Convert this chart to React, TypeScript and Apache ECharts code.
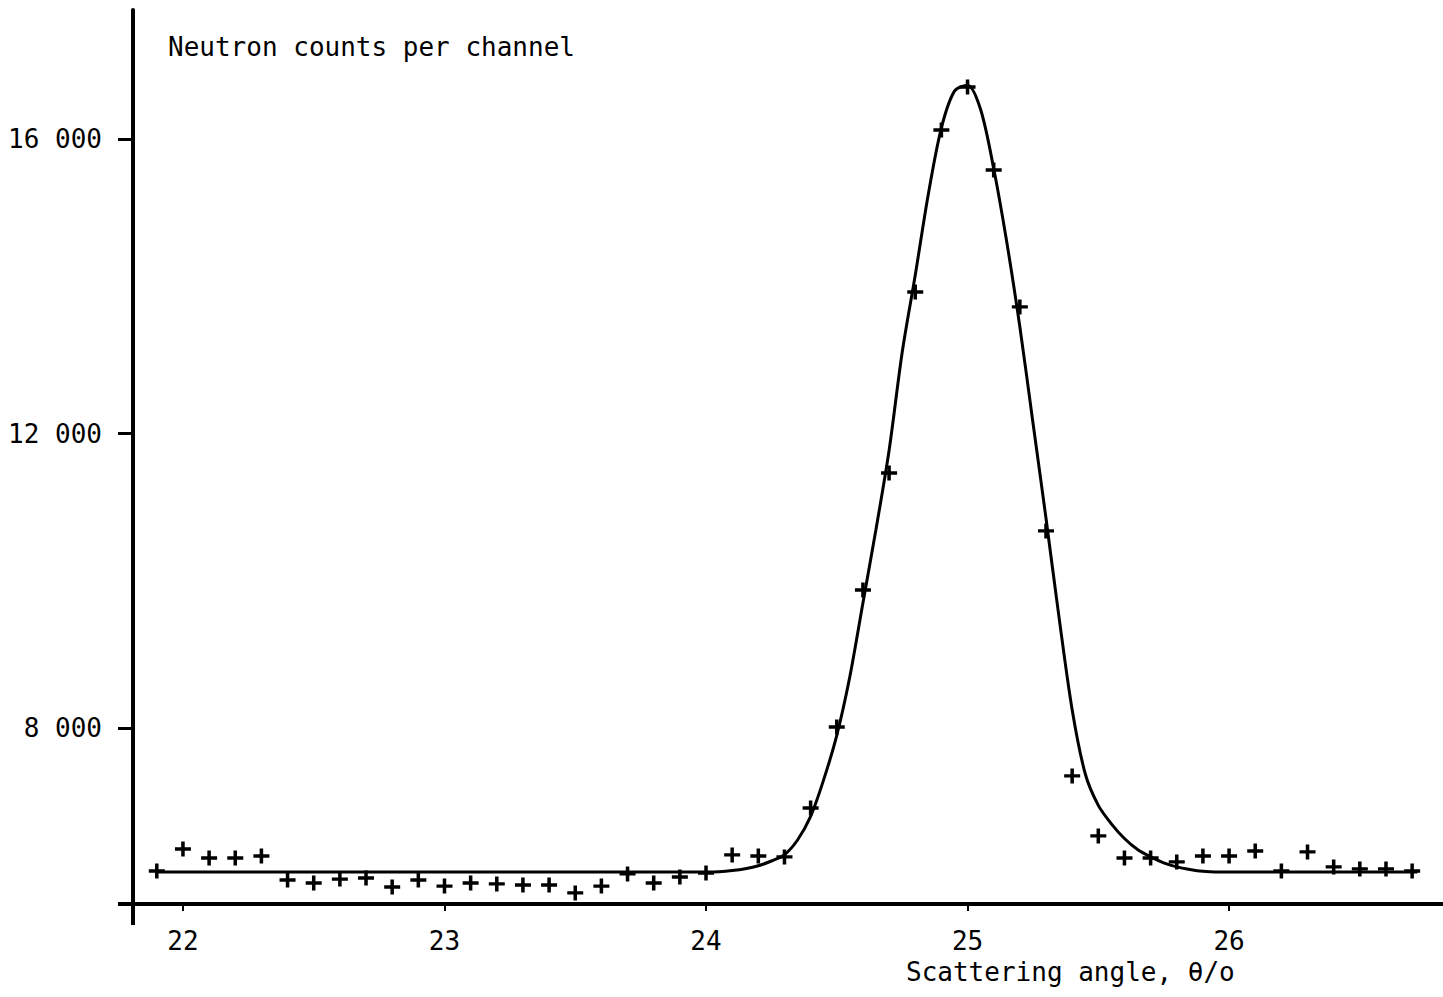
import React, { useEffect, useRef } from "react";
import * as echarts from "echarts";

// Measured channels (scattering angle, degrees)
const angles = [
  21.9, 22.0, 22.1, 22.2, 22.3, 22.4, 22.5, 22.6, 22.7, 22.8, 22.9,
  23.0, 23.1, 23.2, 23.3, 23.4, 23.5, 23.6, 23.7, 23.8, 23.9,
  24.0, 24.1, 24.2, 24.3, 24.4, 24.5, 24.6, 24.7, 24.8, 24.9,
  25.0, 25.1, 25.2, 25.3, 25.4, 25.5, 25.6, 25.7, 25.8, 25.9,
  26.0, 26.1, 26.2, 26.3, 26.4, 26.5, 26.6, 26.7,
];
// Neutron counts per channel
const counts = [
  6059, 6358, 6236, 6236, 6263, 5937, 5896, 5950, 5964, 5842, 5937,
  5855, 5896, 5883, 5869, 5869, 5761, 5855, 6019, 5896, 5978,
  6032, 6277, 6263, 6250, 6915, 8015, 9875, 11464, 13922, 16122,
  16706, 15579, 13719, 10677, 7350, 6535, 6236, 6236, 6182, 6263,
  6263, 6331, 6059, 6318, 6114, 6087, 6087, 6059,
];

// Fitted curve
const fitAngles = [
  21.9, 22.5, 23.0, 23.5, 23.8, 24.0, 24.05, 24.1, 24.15, 24.2, 24.25,
  24.3, 24.35, 24.4, 24.45, 24.5, 24.55, 24.6, 24.65, 24.7, 24.75,
  24.8, 24.85, 24.9, 24.95, 25.0, 25.05, 25.1, 25.15, 25.2, 25.25,
  25.3, 25.35, 25.4, 25.45, 25.5, 25.55, 25.6, 25.65, 25.7, 25.75,
  25.8, 25.85, 25.9, 25.95, 26.0, 26.2, 26.5, 26.72,
];
const fitCounts = [
  6046, 6046, 6046, 6046, 6046, 6046, 6050, 6065, 6090, 6130, 6195,
  6280, 6480, 6800, 7300, 7900, 8700, 9700, 10700, 11770, 13100,
  14150, 15250, 16150, 16650, 16730, 16400, 15600, 14600, 13450, 12150,
  10850, 9500, 8250, 7380, 6950, 6700, 6500, 6350, 6250, 6170,
  6115, 6080, 6055, 6046, 6046, 6046, 6046, 6046,
];

const xTicks = [22, 23, 24, 25, 26];
const yTicks = [8000, 12000, 16000];

const FONT = "DejaVu Sans Mono";
const PLUS =
  "path://M-0.22,-1L0.22,-1L0.22,-0.22L1,-0.22L1,0.22L0.22,0.22L0.22,1L-0.22,1L-0.22,0.22L-1,0.22L-1,-0.22L-0.22,-0.22Z";

export default function App() {
  const ref = useRef<HTMLDivElement>(null);
  useEffect(() => {
    if (!ref.current) return;
    const chart = echarts.init(ref.current, null, { renderer: "svg" });
    chart.setOption({
      animation: false,
      backgroundColor: "#ffffff",
      grid: { left: 133, right: 0, top: 10, bottom: 93 },
      xAxis: {
        type: "value",
        min: 21.809,
        max: 26.818,
        axisLine: { show: true, lineStyle: { color: "#000", width: 4 } },
        axisTick: {
          show: true,
          customValues: xTicks,
          length: 7,
          lineStyle: { color: "#000", width: 2 },
        },
        axisLabel: {
          customValues: xTicks,
          fontFamily: FONT,
          fontSize: 26,
          color: "#000",
          margin: 24,
        },
        splitLine: { show: false },
      },
      yAxis: {
        type: "value",
        min: 5611,
        max: 17752,
        axisLine: { show: true, lineStyle: { color: "#000", width: 4 } },
        axisTick: {
          show: true,
          customValues: yTicks,
          length: 15,
          lineStyle: { color: "#000", width: 3 },
        },
        axisLabel: {
          customValues: yTicks,
          fontFamily: FONT,
          fontSize: 26,
          color: "#000",
          margin: 31,
          formatter: (v: number) => {
            const s = String(Math.round(v));
            return s.slice(0, s.length - 3) + " " + s.slice(-3);
          },
        },
        splitLine: { show: false },
      },
      graphic: [
        {
          type: "line",
          shape: { x1: 118, y1: 904, x2: 133, y2: 904 },
          style: { stroke: "#000", lineWidth: 4 },
        },
        {
          type: "line",
          shape: { x1: 133, y1: 904, x2: 133, y2: 925 },
          style: { stroke: "#000", lineWidth: 4 },
        },
        {
          type: "text",
          x: 168,
          y: 47,
          style: {
            text: "Neutron counts per channel",
            font: `26px '${FONT}'`,
            fill: "#000",
            verticalAlign: "middle",
            align: "left",
          },
        },
        {
          type: "text",
          x: 906,
          y: 972,
          style: {
            text: "Scattering angle, θ/o",
            font: `26px '${FONT}'`,
            fill: "#000",
            verticalAlign: "middle",
            align: "left",
          },
        },
      ],
      series: [
        {
          type: "line",
          data: fitAngles.map((a, i) => [a, fitCounts[i]]),
          showSymbol: false,
          smooth: 0.3,
          lineStyle: { color: "#000", width: 3 },
          z: 2,
        },
        {
          type: "scatter",
          data: angles.map((a, i) => [a, counts[i]]),
          symbol: PLUS,
          symbolSize: [16, 15],
          itemStyle: { color: "#000", opacity: 1 },
          z: 3,
        },
      ],
    });
    return () => chart.dispose();
  }, []);
  return (
    <div
      ref={ref}
      style={{ position: "fixed", left: 0, top: 0, width: 1443, height: 997 }}
    />
  );
}
